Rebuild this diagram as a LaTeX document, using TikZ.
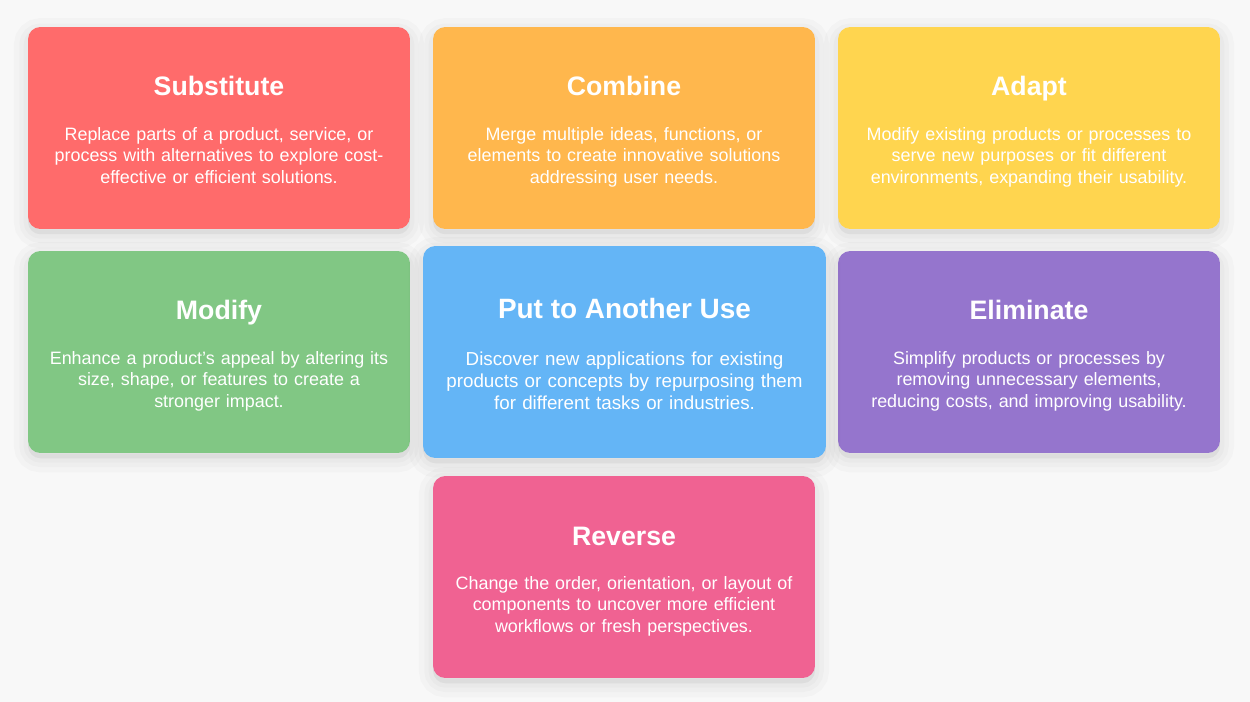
\documentclass[tikz,border=0pt]{standalone}
\usepackage{fontspec}
\setmainfont{Liberation Sans}
\definecolor{pagebg}{HTML}{F8F8F8}
\definecolor{csub}{HTML}{FF6B6B}
\definecolor{ccomb}{HTML}{FFB74D}
\definecolor{cadapt}{HTML}{FFD54F}
\definecolor{cmod}{HTML}{81C784}
\definecolor{cput}{HTML}{64B5F6}
\definecolor{celim}{HTML}{9575CD}
\definecolor{crev}{HTML}{F06292}
\tikzset{
  card/.style={rounded corners=7pt,minimum width=7.64cm,minimum height=4.04cm,inner sep=0pt,
    preaction={draw=black,draw opacity=0.018,line width=16pt,transform canvas={yshift=-3pt}},
    preaction={draw=black,draw opacity=0.018,line width=10pt,transform canvas={yshift=-3pt}},
    preaction={draw=black,draw opacity=0.02,line width=5pt,transform canvas={yshift=-3pt}},
    preaction={fill=black,fill opacity=0.05,transform canvas={yshift=-3pt}}},
  bigcard/.style={card,minimum width=8.06cm,minimum height=4.24cm},
  ctitle/.style={anchor=base,text=white,inner sep=0pt,font=\fontsize{15.2}{18}\selectfont\bfseries},
  cdesc/.style={anchor=base,text=white,inner sep=0pt,align=center,text width=7.4cm,font=\fontsize{10.2}{12.1}\selectfont},
  bigtitle/.style={ctitle,font=\fontsize{15.9}{19}\selectfont\bfseries},
  bigdesc/.style={cdesc,text width=7.8cm,font=\fontsize{10.7}{12.4}\selectfont}
}
\begin{document}
\begin{tikzpicture}[x=0.02cm,y=-0.02cm]
  \fill[pagebg] (0,0) rectangle (1250,702);
  \useasboundingbox (0,0) rectangle (1250,702);
  % first row
  \node[card,fill=csub] (sub) at (219,128) {};
  \node[ctitle] (sub-t) at (219,95.5) {Substitute};
  \node[cdesc] (sub-d) at (219,140.7) {Replace parts of a product, service, or\\ process with alternatives to explore cost-\\ effective or efficient solutions.};
  \node[card,fill=ccomb] (comb) at (624,128) {};
  \node[ctitle] (comb-t) at (624,95.5) {Combine};
  \node[cdesc] (comb-d) at (624,140.7) {Merge multiple ideas, functions, or\\ elements to create innovative solutions\\ addressing user needs.};
  \node[card,fill=cadapt] (adapt) at (1029,128) {};
  \node[ctitle] (adapt-t) at (1029,95.5) {Adapt};
  \node[cdesc] (adapt-d) at (1029,140.7) {Modify existing products or processes to\\ serve new purposes or fit different\\ environments, expanding their usability.};
  % second row
  \node[card,fill=cmod] (mod) at (219,352) {};
  \node[ctitle] (mod-t) at (219,319.5) {Modify};
  \node[cdesc] (mod-d) at (219,364.7) {Enhance a product's appeal by altering its\\ size, shape, or features to create a\\ stronger impact.};
  \node[card,fill=celim] (elim) at (1029,352) {};
  \node[ctitle] (elim-t) at (1029,319.5) {Eliminate};
  \node[cdesc] (elim-d) at (1029,364.7) {Simplify products or processes by\\ removing unnecessary elements,\\ reducing costs, and improving usability.};
  \node[bigcard,fill=cput] (put) at (624.5,352) {};
  \node[bigtitle] (put-t) at (624.5,318.5) {Put to Another Use};
  \node[bigdesc] (put-d) at (624.5,365.5) {Discover new applications for existing\\ products or concepts by repurposing them\\ for different tasks or industries.};
  % third row
  \node[card,fill=crev] (rev) at (624,577) {};
  \node[ctitle] (rev-t) at (624,545) {Reverse};
  \node[cdesc] (rev-d) at (624,589.5) {Change the order, orientation, or layout of\\ components to uncover more efficient\\ workflows or fresh perspectives.};
\end{tikzpicture}
\end{document}
